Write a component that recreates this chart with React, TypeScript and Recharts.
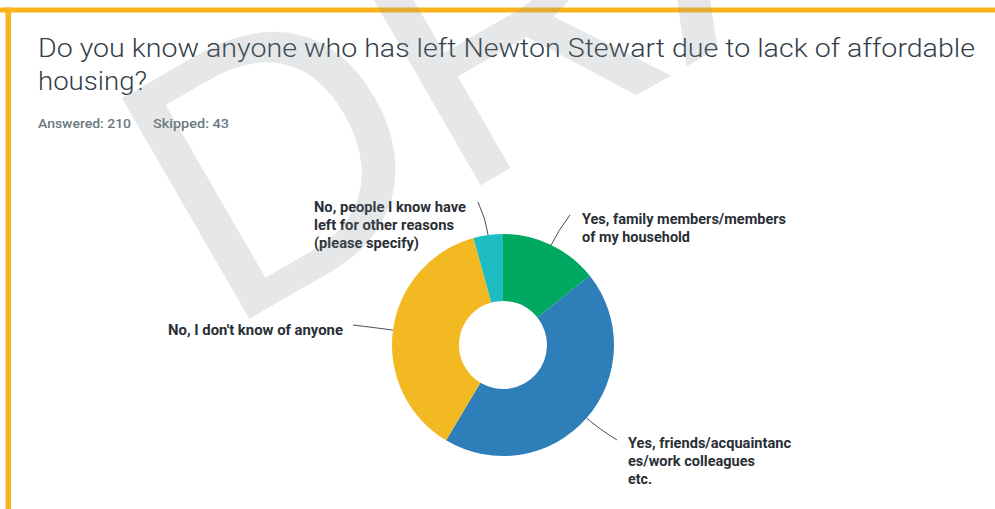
import { PieChart, Pie, Cell } from "recharts";

const categories = [
  "Yes, family members/members of my household",
  "Yes, friends/acquaintances/work colleagues etc.",
  "No, I don't know of anyone",
  "No, people I know have left for other reasons (please specify)",
];
// respondents per answer (210 answered)
const responses = [30, 93, 78, 9];
// label text as wrapped in the original
const labelText = [
  ["Yes, family members/members", "of my household"],
  ["Yes, friends/acquaintanc", "es/work colleagues", "etc."],
  ["No, I don't know of anyone"],
  ["No, people I know have", "left for other reasons", "(please specify)"],
];

const sliceColors = ["#00a862", "#2e7eba", "#f3b923", "#1dbdc2"];

// where each label sits, where its leader line ends, line widths
const labelLayout = [
  { x: 582, y: 224, ex: 570, ey: 215, lh: 17.5, w: [204, 108] },
  { x: 628, y: 448, ex: 617, ey: 440, lh: 18, w: [163, 127, 24] },
  { x: 168, y: 335, ex: 353, ey: 325, lh: 18, w: [175] },
  { x: 314, y: 212, ex: 478, ey: 202, lh: 18, w: [152, 140, 105] },
];

const data = categories.map((name, i) => ({ name, value: responses[i] }));

const RAD = Math.PI / 180;
const FONT = "Roboto, 'Liberation Sans', sans-serif";

const renderLabel = (props: any) => {
  const { cx, cy, midAngle, outerRadius, index } = props;
  const l = labelLayout[index];
  const sx = cx + outerRadius * Math.cos(-midAngle * RAD);
  const sy = cy + outerRadius * Math.sin(-midAngle * RAD);
  const qx = cx + (outerRadius + 16) * Math.cos(-midAngle * RAD);
  const qy = cy + (outerRadius + 16) * Math.sin(-midAngle * RAD);
  return (
    <g key={`lbl-${index}`}>
      <path
        d={`M${sx},${sy} Q${qx},${qy} ${l.ex},${l.ey}`}
        stroke="#4a4f54"
        strokeWidth={1}
        fill="none"
      />
      {labelText[index].map((line, j) => (
        <text
          key={j}
          x={l.x}
          y={l.y + j * l.lh}
          fill="#2a2f35"
          fontSize={14.5}
          fontWeight={700}
          fontFamily={FONT}
          textLength={l.w[j]}
          lengthAdjust="spacingAndGlyphs"
        >
          {line}
        </text>
      ))}
    </g>
  );
};

export default function App() {
  return (
    <div
      style={{
        position: "absolute",
        left: 0,
        top: 0,
        width: 995,
        height: 509,
        background: "#fff",
        overflow: "hidden",
      }}
    >
      <svg
        width={995}
        height={509}
        style={{ position: "absolute", left: 0, top: 0 }}
      >
        <rect x={0} y={7.5} width={995} height={5} fill="#fbb31d" />
        <rect x={5.5} y={7.5} width={5.5} height={502} fill="#fbb31d" />
        <text
          x={38}
          y={57}
          fontSize={26}
          fontWeight={300}
          fill="#333e48"
          fontFamily={FONT}
          textLength={937}
          lengthAdjust="spacingAndGlyphs"
        >
          Do you know anyone who has left Newton Stewart due to lack of affordable
        </text>
        <text
          x={38}
          y={90}
          fontSize={26}
          fontWeight={300}
          fill="#333e48"
          fontFamily={FONT}
          textLength={109}
          lengthAdjust="spacingAndGlyphs"
        >
          housing?
        </text>
        <text
          x={38}
          y={128}
          fontSize={13.5}
          fontWeight={500}
          fill="#6b7880"
          fontFamily={FONT}
          textLength={93}
          lengthAdjust="spacingAndGlyphs"
        >
          Answered: 210
        </text>
        <text
          x={153}
          y={128}
          fontSize={13.5}
          fontWeight={500}
          fill="#6b7880"
          fontFamily={FONT}
          textLength={76}
          lengthAdjust="spacingAndGlyphs"
        >
          Skipped: 43
        </text>
      </svg>

      <div style={{ position: "absolute", left: 0, top: 0 }}>
        <PieChart width={995} height={509} margin={{ top: 0, right: 0, bottom: 0, left: 0 }}>
          <Pie
            data={data}
            dataKey="value"
            nameKey="name"
            cx={503}
            cy={345}
            innerRadius={44}
            outerRadius={111}
            startAngle={90}
            endAngle={-270}
            stroke="none"
            label={renderLabel}
            labelLine={false}
            isAnimationActive={false}
          >
            {data.map((d, i) => (
              <Cell key={d.name} fill={sliceColors[i]} />
            ))}
          </Pie>
        </PieChart>
      </div>

      {/* DRAFT watermark, runs off the top edge as in the original */}
      <svg
        width={995}
        height={509}
        style={{ position: "absolute", left: 0, top: 0, pointerEvents: "none" }}
      >
        <text
          x={223}
          y={334}
          transform="rotate(-30 223 334)"
          fontSize={370}
          fontFamily="'Liberation Sans', Arial, sans-serif"
          fill="#7f868d"
          fillOpacity={0.2}
        >
          DRAFT
        </text>
      </svg>
    </div>
  );
}
